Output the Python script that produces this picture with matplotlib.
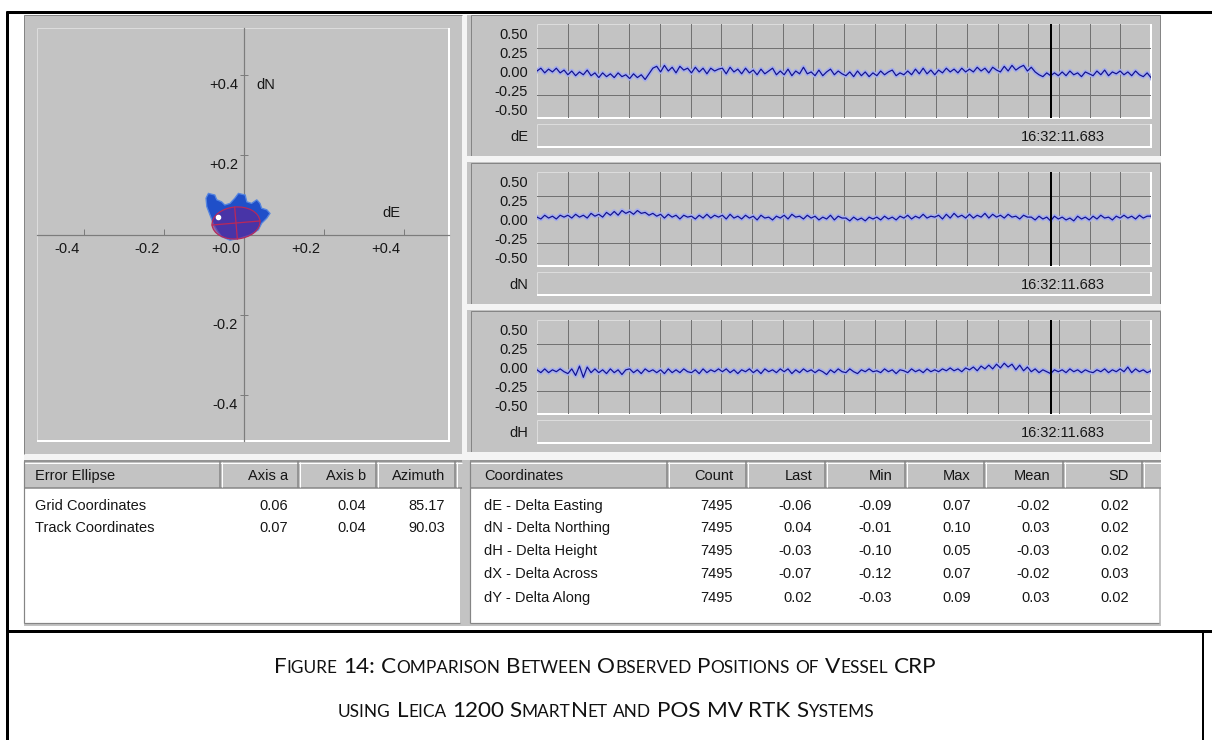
import matplotlib
matplotlib.use("Agg")
import numpy as np
import matplotlib.pyplot as plt
from matplotlib.patches import Rectangle, Ellipse

W, H = 1212, 740
PX = 0.72  # one pixel in points at 100 dpi

# ---- Error ellipse table ----
ellipse_cols = ["Error Ellipse", "Axis a", "Axis b", "Azimuth"]
ellipse_rows = ["Grid Coordinates", "Track Coordinates"]
axis_a = [0.06, 0.07]
axis_b = [0.04, 0.04]
azimuth = [85.17, 90.03]

# ---- Coordinate statistics table ----
coord_cols = ["Coordinates", "Count", "Last", "Min", "Max", "Mean", "SD"]
coord_rows = ["dE - Delta Easting", "dN - Delta Northing", "dH - Delta Height",
              "dX - Delta Across", "dY - Delta Along"]
count = [7495, 7495, 7495, 7495, 7495]
last = [-0.06, 0.04, -0.03, -0.07, 0.02]
minimum = [-0.09, -0.01, -0.10, -0.12, -0.03]
maximum = [0.07, 0.10, 0.05, 0.07, 0.09]
mean = [-0.02, 0.03, -0.03, -0.02, 0.03]
sd = [0.02, 0.02, 0.02, 0.03, 0.02]

# ---- Position cloud outline (dE, dN in metres) ----
cloud_de = [-0.089, -0.073, -0.068, -0.056, -0.048, -0.035, -0.023, -0.014, 0.003,
            0.007, 0.019, 0.032, 0.040, 0.044, 0.057, 0.065, 0.057, 0.044, 0.036,
            0.015, -0.010, -0.035, -0.056, -0.068, -0.077, -0.085, -0.093, -0.095]
cloud_dn = [0.104, 0.100, 0.088, 0.083, 0.075, 0.079, 0.092, 0.104, 0.100,
            0.083, 0.079, 0.088, 0.079, 0.067, 0.063, 0.054, 0.042, 0.029, 0.013,
            0.000, -0.008, -0.013, -0.004, 0.013, 0.029, 0.050, 0.071, 0.092]
current_fix = (-0.065, 0.045)

scatter_x_ticks = [-0.4, -0.2, 0.0, 0.2, 0.4]
scatter_x_labels = ["-0.4", "-0.2", "+0.0", "+0.2", "+0.4"]
scatter_y_ticks = [0.4, 0.2, -0.2, -0.4]
scatter_y_labels = ["+0.4", "+0.2", "-0.2", "-0.4"]

# ---- Time series (centimetres, sampled along the 7495 epochs) ----
series_names = ["dE", "dN", "dH"]
dE_cm = [1, 4, -1, 3, 0, 4, -1, 2, -3, 1, -4, 0, -3, 2, -4, -1,
         -6, -1, -5, -2, -6, -1, -5, -3, -7, -2, -6, -3, -8, -2, 4, 6,
         0, 7, 1, 5, -1, 6, 2, 4, -1, 5, 0, 4, -2, 4, 1, 3,
         4, -2, 5, 0, 3, -2, 4, -1, 2, -3, 3, -2, 1, 4, -3, 1,
         -3, 3, -4, 1, -2, 5, -2, 0, -4, 2, -4, 0, 3, -3, 1, -2,
         -4, 0, -5, 1, -4, 0, -5, -1, -4, 1, -3, 0, 2, -4, -1, -3,
         1, -3, 3, -2, 4, -2, 2, -3, 2, -1, 4, 0, 3, -1, 4, 0,
         3, 0, 5, 1, 4, -1, 5, 2, 0, 6, 1, 7, 2, 5, 7, 1,
         5, 0, -3, -5, -1, -4, -1, -4, 0, -4, 1, -3, -1, -5, 0, -2,
         -4, 1, -3, 2, -4, 0, -2, 1, -3, 0, -4, 1, -3, -5, -1, -6]
dN_cm = [3, 1, 5, 2, 4, 1, 5, 3, 5, 2, 6, 3, 5, 2, 7, 4,
         6, 3, 8, 5, 9, 5, 10, 7, 9, 6, 10, 7, 8, 5, 7, 4,
         6, 2, 6, 3, 5, 1, 5, 3, 4, 1, 5, 2, 6, 2, 5, 3,
         5, 1, 6, 2, 4, 1, 5, 2, 4, 0, 5, 2, 3, 0, 4, 2,
         5, 1, 6, 3, 4, 1, 5, 2, 4, 0, 3, 1, 5, 0, 4, 2,
         2, -1, 3, 0, 2, -1, 3, 1, 3, 0, 4, 1, 3, 0, 4, 2,
         5, 1, 4, 2, 6, 2, 4, 3, 5, 1, 6, 2, 7, 3, 5, 2,
         6, 2, 5, 3, 7, 2, 6, 3, 5, 2, 6, 3, 4, 1, 5, 3,
         3, 0, 4, 1, 3, -1, 4, 1, 3, 0, 2, -1, 4, 1, 3, 0,
         4, 1, 5, 2, 3, 0, 4, 2, 5, 2, 4, 1, 5, 2, 4, 4]
dH_cm = [-2, -5, -1, -5, -2, -4, -1, -4, -6, -1, -8, 2, -10, 1, -5, -1,
         -5, -2, -6, -1, -5, -2, -7, -2, -1, -5, -2, -6, -1, -4, -2, -5,
         -2, -6, -1, -5, -2, -5, -1, -4, -5, -2, -6, -1, -5, -2, -4, -1,
         -4, -1, -5, -2, -6, -2, -4, -1, -5, -2, -6, -1, -4, -2, -5, -1,
         -4, -1, -6, -2, -5, -1, -4, -2, -5, -2, -4, -7, -2, -5, -1, -4,
         -5, -1, -4, -6, -2, -4, -1, -4, -3, -5, -1, -4, -2, -6, -2, -3,
         -5, -1, -4, -2, -5, -1, -4, -2, -4, -1, -3, 0, -3, -1, -4, 0,
         -2, 1, -3, 2, -1, 3, -1, 4, 0, 5, 1, 4, -2, 3, -3, 1,
         -4, -1, -5, -2, -4, -6, -2, -4, -2, -5, -1, -4, -2, -5, -2, -4,
         -5, -2, -4, -1, -5, -2, -4, -1, -4, 1, -5, -1, -4, -2, -5, -3]
series_cm = [dE_cm, dN_cm, dH_cm]
n_epochs = 7495
cursor_epoch = 6270
cursor_time = "16:32:11.683"
level_labels = ["0.50", "0.25", "0.00", "-0.25", "-0.50"]

caption_lines = ["Figure 14: Comparison Between Observed Positions of Vessel CRP",
                 "using Leica 1200 SmartNet and POS MV RTK Systems"]

# ---- colours / fonts ----
GRAY = "#c3c3c3"
DARK = "#858585"
LIGHT = "#dcdcdc"
AXIS = "#7c7c7c"
GRID = "#727272"
TRACE = "#10108e"
HALO = "#a6aeec"
TXT = "#161616"
UI_FONT = "Liberation Sans"
FS = 10.5

fig = plt.figure(figsize=(W / 100, H / 100), dpi=100)
fig.patch.set_facecolor("white")
bg = fig.add_axes([0, 0, 1, 1])
bg.set_xlim(0, W)
bg.set_ylim(H, 0)
bg.axis("off")


def px_axes(x0, y0, x1, y1):
    return fig.add_axes([x0 / W, 1 - y1 / H, (x1 - x0) / W, (y1 - y0) / H])


def rect(x0, y0, x1, y1, fc, ec="none", lw=0.0, z=1):
    bg.add_patch(Rectangle((x0, y0), x1 - x0, y1 - y0, facecolor=fc,
                           edgecolor=ec, linewidth=lw, zorder=z))


def hline(y, x0, x1, c, lw=1.0, z=2):
    bg.plot([x0, x1], [y, y], color=c, lw=lw * PX, zorder=z, solid_capstyle="butt")


def vline(x, y0, y1, c, lw=1.0, z=2):
    bg.plot([x, x], [y0, y1], color=c, lw=lw * PX, zorder=z, solid_capstyle="butt")


def sunken(x0, y0, x1, y1):
    hline(y0, x0, x1, LIGHT)
    vline(x0, y0, y1, LIGHT)
    hline(y1, x0, x1 + 1, "white", 2)
    vline(x1, y0, y1, "white", 2)


def ui_text(x, y, s, ha="left", **kw):
    bg.text(x, y + 1, s, ha=ha, va="center", fontsize=FS, family=UI_FONT,
            color=TXT, zorder=5, **kw)


# ------------------------------
# Document frame
# ------------------------------
hline(12, 6, W, "black", 3)
vline(7, 11, H, "black", 3)
hline(631, 6, W, "black", 3)
vline(1203, 631, H, "black", 2)

# screen capture background
rect(24, 15, 1161, 626, GRAY)
rect(462, 15, 467, 455, "#f4f4f4", z=1.5)
rect(24, 454, 1161, 460, "#f4f4f4", z=1.5)

# ------------------------------
# Scatter of dE / dN
# ------------------------------
vline(24, 15, 454, DARK)
hline(15, 24, 462, DARK)
sunken(37, 28, 449, 441)

ax = px_axes(37, 28, 449, 441)
ax.set_facecolor("none")
ax.set_xlim(-0.5175, 0.5125)
ax.set_ylim(-0.515, 0.5175)
for s in ("top", "right"):
    ax.spines[s].set_visible(False)
for s in ("left", "bottom"):
    ax.spines[s].set_position(("data", 0))
    ax.spines[s].set_color(AXIS)
    ax.spines[s].set_linewidth(1.2 * PX)
ax.set_xticks([t for t in scatter_x_ticks if t != 0])
ax.set_yticks(scatter_y_ticks)
ax.tick_params(axis="x", direction="in", length=4.5, width=PX, color=AXIS, labelbottom=False)
ax.tick_params(axis="y", direction="inout", length=5.5, width=PX, color=AXIS, labelleft=False)
for v, lab in zip(scatter_x_ticks, scatter_x_labels):
    ax.annotate(lab, (v, 0), xytext=(-4, -14), textcoords="offset pixels", ha="right",
                va="center", fontsize=FS, family=UI_FONT, color=TXT)
for v, lab in zip(scatter_y_ticks, scatter_y_labels):
    ax.annotate(lab, (0, v), xytext=(-6, -10), textcoords="offset pixels", ha="right",
                va="center", fontsize=FS, family=UI_FONT, color=TXT)
ax.text(0.03, 0.375, "dN", ha="left", va="center", fontsize=FS, family=UI_FONT, color=TXT)
ax.text(0.39, 0.055, "dE", ha="right", va="center", fontsize=FS, family=UI_FONT, color=TXT)

ax.fill(cloud_de, cloud_dn, facecolor="#1f4fc9", edgecolor="#5585e0", lw=1.3 * PX, zorder=3)
ell_c = (mean[0], mean[1])
ax.add_patch(Ellipse(ell_c, 2 * axis_a[0], 2 * axis_b[0], angle=90 - azimuth[0],
                     facecolor=(0.42, 0.12, 0.55, 0.55), edgecolor="#b8285a",
                     lw=1.2 * PX, zorder=4))
az = np.radians(azimuth[0])
ux, uy = np.sin(az), np.cos(az)
ax.plot([ell_c[0] - axis_a[0] * ux, ell_c[0] + axis_a[0] * ux],
        [ell_c[1] - axis_a[0] * uy, ell_c[1] + axis_a[0] * uy], color="#b8285a", lw=1.3 * PX, zorder=5)
ax.plot([ell_c[0] - axis_b[0] * uy, ell_c[0] + axis_b[0] * uy],
        [ell_c[1] + axis_b[0] * ux, ell_c[1] - axis_b[0] * ux], color="#b8285a", lw=1.3 * PX, zorder=5)
ax.plot(*current_fix, "o", color="white", ms=3, zorder=6)

# ------------------------------
# dE / dN / dH time series
# ------------------------------
panel_tops = [15, 163, 311]
xs_grid = [n_epochs * k / 20 for k in range(1, 20)]
for name, vals, top in zip(series_names, series_cm, panel_tops):
    gt = top + 9
    rect(471, top, 1160, top + 141, GRAY, ec=DARK, lw=PX, z=1.6)
    sunken(537, gt, 1151, gt + 94)
    sunken(537, gt + 100, 1151, gt + 123)

    axs = px_axes(537, gt, 1151, gt + 94)
    axs.set_facecolor("none")
    for s in axs.spines.values():
        s.set_visible(False)
    y = np.array(vals) / 100.0
    x = np.linspace(0, n_epochs - 1, len(y))
    axs.plot(x, y, color=HALO, lw=4.5 * PX, zorder=2, solid_joinstyle="round")
    axs.plot(x, y, color=TRACE, lw=1.2 * PX, zorder=3)
    axs.axvline(cursor_epoch, color="black", lw=2 * PX, zorder=4)
    axs.set_xlim(0, n_epochs - 1)
    axs.set_ylim(-0.49, 0.51)
    axs.set_xticks(xs_grid)
    axs.set_yticks([-0.25, 0.25])
    axs.grid(True, color=GRID, lw=PX)
    axs.set_axisbelow(True)
    axs.tick_params(length=0, labelbottom=False, labelleft=False)

    for j, lab in enumerate(level_labels):
        ui_text(528, gt + 10 + 19 * j, lab, ha="right")
    ui_text(528, gt + 112, name, ha="right")
    ui_text(1105, gt + 112, cursor_time, ha="right")

rect(467, 156, 1161, 162, "#f4f4f4", z=1.8)
rect(467, 304, 1161, 310, "#f4f4f4", z=1.8)
rect(467, 452, 1161, 460, "#f4f4f4", z=1.8)


# ------------------------------
# Tables
# ------------------------------
def header(x0, x1, seps, z=3):
    rect(x0, 461, x1, 488, GRAY, z=z)
    hline(461, x0, x1, DARK, 1.5, z=z + 0.1)
    hline(488, x0, x1, DARK, 1.5, z=z + 0.1)
    hline(462.5, x0, x1, "white", 1, z=z + 0.1)
    for s in seps:
        vline(s, 461, 488, DARK, 1.5, z=z + 0.1)
        vline(s + 1.5, 462, 487, "white", 1, z=z + 0.1)
    rect(x0, 488, x1 - 2, 623, "white", z=z)
    vline(x0, 461, 623, DARK, 1.2, z=z + 0.1)
    hline(623, x0, x1 - 2, DARK, 1.2, z=z + 0.1)


# error ellipse table
left_seps = [220, 298, 376, 455]
header(24, 462, left_seps)
ui_text(35, 475, ellipse_cols[0])
for s, lab in zip(left_seps[1:], ellipse_cols[1:]):
    ui_text(s - 10, 475, lab, ha="right")
for i, row in enumerate(ellipse_rows):
    yy = 505 + 22 * i
    ui_text(35, yy, row)
    for s, v in zip(left_seps[1:], [axis_a[i], axis_b[i], azimuth[i]]):
        ui_text(s - 10, yy, f"{v:.2f}", ha="right")

# coordinate statistics table
right_seps = [667, 746, 825, 905, 984, 1063, 1142]
header(470, 1161, right_seps)
ui_text(484, 475, coord_cols[0])
for s, lab in zip(right_seps[1:], coord_cols[1:]):
    ui_text(s - 13, 475, lab, ha="right")
row_y = [505, 527, 550, 573, 597]
for i, row in enumerate(coord_rows):
    ui_text(484, row_y[i], row)
    cells = [f"{count[i]}", f"{last[i]:.2f}", f"{minimum[i]:.2f}",
             f"{maximum[i]:.2f}", f"{mean[i]:.2f}", f"{sd[i]:.2f}"]
    for s, v in zip(right_seps[1:], cells):
        ui_text(s - 13, row_y[i], v, ha="right")

# ------------------------------
# Caption in small capitals
# ------------------------------
renderer = fig.canvas.get_renderer()
CAP_FONT = "Lato"
BIG, SMALL = 16.2, 12.4


def small_caps(text, cx, base):
    pieces = []
    x = 0.0
    probe = bg.text(0, 0, "A A", fontsize=BIG, family=CAP_FONT)
    probe2 = bg.text(0, 0, "AA", fontsize=BIG, family=CAP_FONT)
    space = probe.get_window_extent(renderer).width - probe2.get_window_extent(renderer).width
    probe.remove()
    probe2.remove()
    for k, word in enumerate(text.split(" ")):
        if k:
            x += space
        runs = []
        for ch in word:
            big = not ch.islower()
            if runs and runs[-1][1] == big:
                runs[-1][0] += ch
            else:
                runs.append([ch, big])
        for s, big in runs:
            t = bg.text(x, base, s.upper(), fontsize=BIG if big else SMALL,
                        family=CAP_FONT, ha="left", va="baseline", color="#111111")
            pieces.append(t)
            x += t.get_window_extent(renderer).width
    shift = cx - x / 2
    for t in pieces:
        px, py = t.get_position()
        t.set_position((px + shift, py))


small_caps(caption_lines[0], 605, 673)
small_caps(caption_lines[1], 606, 717)

fig.savefig("out.png", dpi=100)
